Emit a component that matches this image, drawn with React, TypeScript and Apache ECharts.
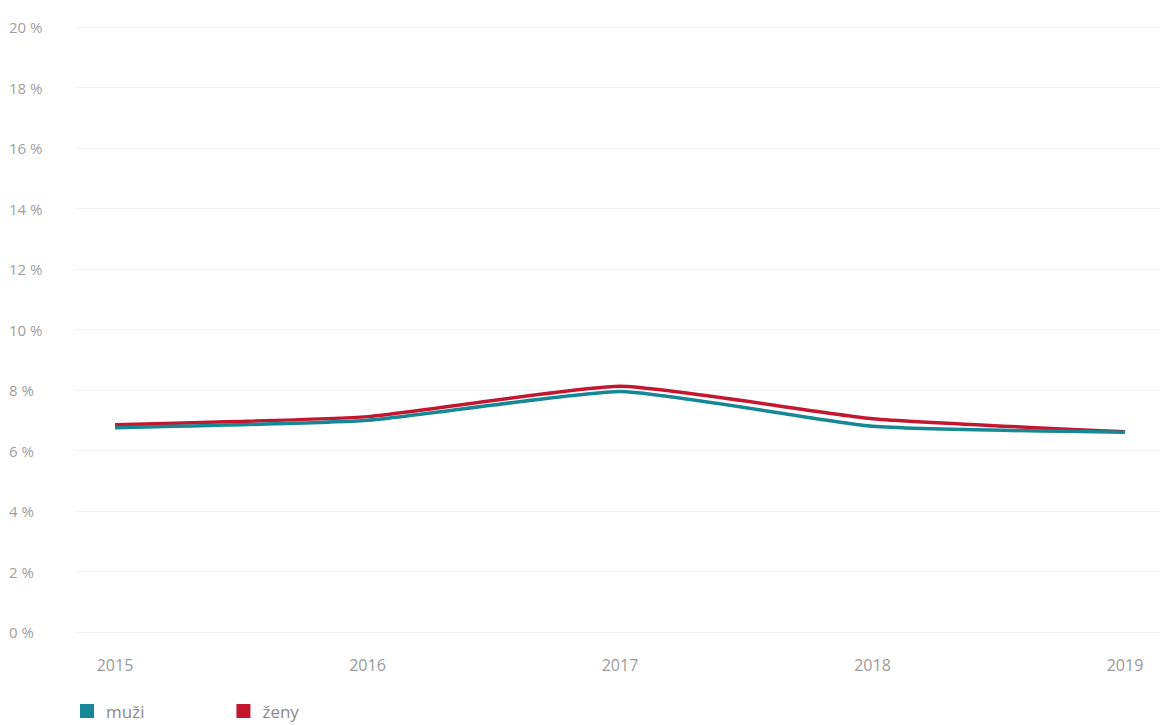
import React, { useEffect, useRef } from "react";
import * as echarts from "echarts";

const years = ["2015", "2016", "2017", "2018", "2019"];
const muzi = [6.75, 7.0, 7.95, 6.8, 6.6];
const zeny = [6.85, 7.12, 8.12, 7.05, 6.62];
const yTicks = [0, 2, 4, 6, 8, 10, 12, 14, 16, 18, 20];

const TEAL = "#168795";
const RED = "#c3172f";

export default function App() {
  const ref = useRef<HTMLDivElement>(null);
  useEffect(() => {
    if (!ref.current) return;
    const chart = echarts.init(ref.current, undefined, { renderer: "svg" });
    chart.setOption({
      animation: false,
      backgroundColor: "#ffffff",
      textStyle: { fontFamily: "Open Sans" },
      legend: {
        data: ["muži", "ženy"],
        left: 80,
        top: 700,
        padding: 0,
        icon: "rect",
        itemWidth: 14,
        itemHeight: 14,
        itemGap: 92,
        textStyle: {
          color: "#8a8a8a",
          fontSize: 17,
          lineHeight: 22,
          fontFamily: "Open Sans",
          padding: [0, 0, 0, 7],
        },
      },
      grid: [
        { left: 75, right: 11, top: 27, bottom: 93 },
        { left: 115, right: 46, top: 27, bottom: 93 },
      ],
      xAxis: [
        { gridIndex: 0, type: "value", min: 0, max: 1, show: false },
        {
          gridIndex: 1,
          type: "category",
          data: years,
          boundaryGap: false,
          axisLine: { show: false },
          axisTick: { show: false },
          axisLabel: { color: "#9a9a9a", fontSize: 16, margin: 25 },
          splitLine: { show: false },
        },
      ],
      yAxis: [
        {
          gridIndex: 0,
          type: "value",
          min: yTicks[0],
          max: yTicks[yTicks.length - 1],
          interval: 2,
          axisLine: { show: false },
          axisTick: { show: false },
          axisLabel: {
            formatter: (v: number) => v + " %",
            color: "#a0a0a0",
            fontSize: 15,
            align: "left",
            margin: 66,
          },
          splitLine: { lineStyle: { color: "#f3f3f3", width: 1 } },
        },
        {
          gridIndex: 1,
          type: "value",
          min: yTicks[0],
          max: yTicks[yTicks.length - 1],
          interval: 2,
          show: false,
          splitLine: { show: false },
        },
      ],
      series: [
        {
          name: "ženy",
          type: "line",
          xAxisIndex: 1,
          yAxisIndex: 1,
          data: zeny,
          smooth: 0.15,
          symbol: "none",
          lineStyle: { color: RED, width: 3.5 },
          itemStyle: { color: RED },
        },
        {
          name: "muži",
          type: "line",
          xAxisIndex: 1,
          yAxisIndex: 1,
          data: muzi,
          smooth: 0.15,
          symbol: "none",
          lineStyle: { color: TEAL, width: 3.5 },
          itemStyle: { color: TEAL },
        },
      ],
    });
    return () => chart.dispose();
  }, []);
  return <div ref={ref} style={{ width: 1171, height: 725, position: "absolute", left: 0, top: 0 }} />;
}
